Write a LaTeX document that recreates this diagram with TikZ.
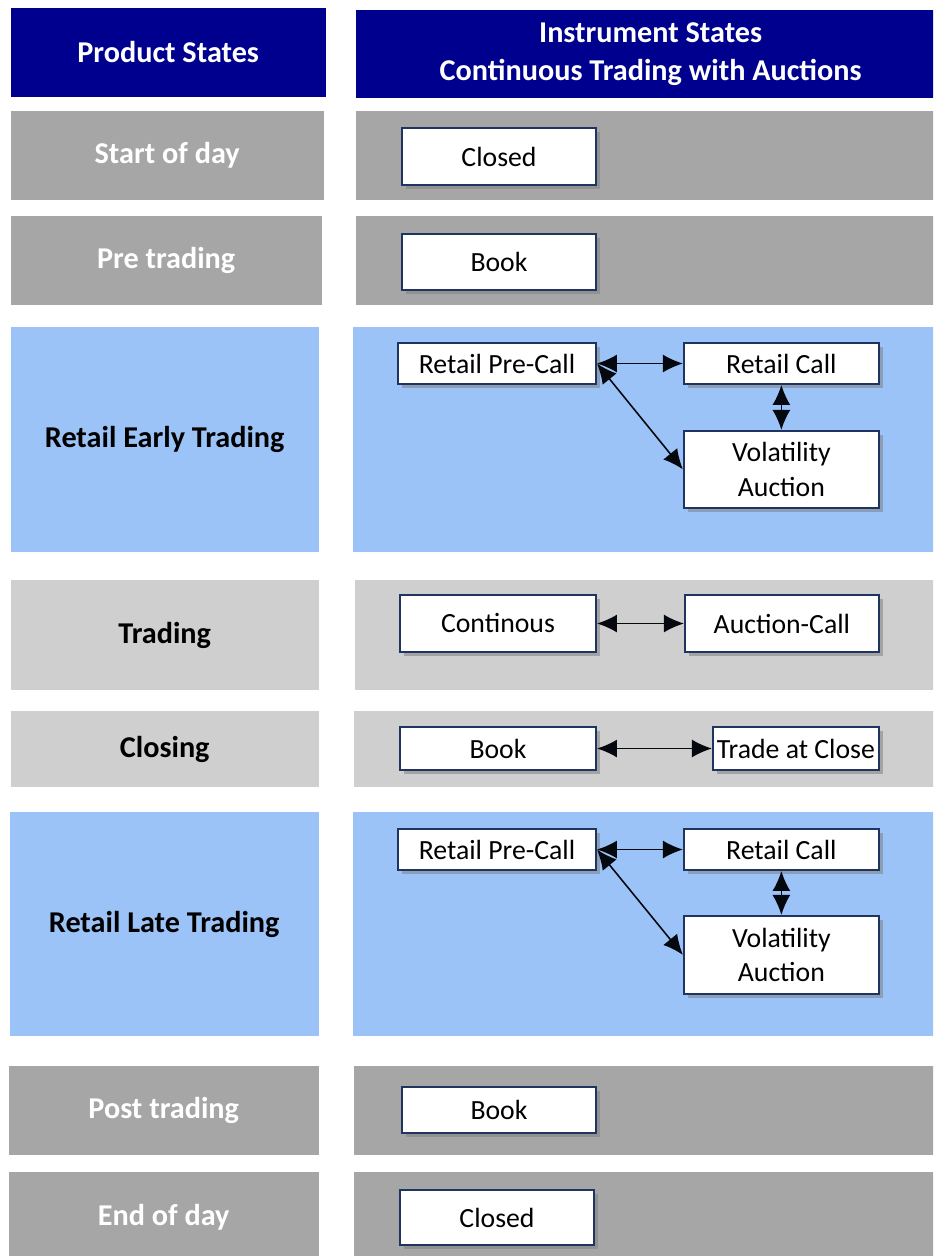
\documentclass[tikz,border=0pt]{standalone}
\usepackage{fontspec}
\setmainfont{Carlito}
\usepackage{tikz}
\usetikzlibrary{shapes, arrows.meta, positioning, shadows}
\usepackage{xcolor}

\definecolor{headblue}{RGB}{0,0,142}
\definecolor{rowdark}{RGB}{166,166,166}
\definecolor{rowlight}{RGB}{207,207,207}
\definecolor{rowblue}{RGB}{155,195,247}
\definecolor{boxline}{RGB}{31,52,96}

\newcommand\statefont{\fontsize{15.8}{19.5}\selectfont}
\newcommand\rowfont{\fontsize{17.2}{21.5}\selectfont\bfseries}

\begin{document}
\begin{tikzpicture}[x=0.02cm, y=-0.02cm, thick,
    head/.style={fill=headblue, text=white, font=\rowfont, align=center},
    darkrow/.style={fill=rowdark, text=white, font=\rowfont},
    lightrow/.style={fill=rowlight, font=\rowfont},
    bluerow/.style={fill=rowblue, font=\rowfont},
    state/.style={draw=boxline, line width=1.1pt, fill=white,
        drop shadow={shadow xshift=2.5pt, shadow yshift=-2.5pt, opacity=0.55},
        font=\statefont, inner sep=1pt, text centered},
    link/.style={{Latex[length=4mm,width=3.6mm]}-{Latex[length=4mm,width=3.6mm]},
        draw=black!85!boxline, line width=0.9pt}]

\clip (0,0) rectangle (933,1256);

% Header
\node[head,
    anchor=west,
    minimum width=6.3cm,
    minimum height=1.78cm] (prodhead) at (10,52.5) {Product States};

\node[head,
    anchor=west,
    minimum width=11.8cm,
    minimum height=1.78cm] (insthead) at (355,54) {Instrument States\\Continuous Trading with Auctions};

% Product states (left) and instrument panels (right)
\node[darkrow, anchor=west, minimum width=6.26cm, minimum height=1.78cm] (row1) at (10,155.5) {Start of day};
\node[darkrow, anchor=west, minimum width=11.8cm, minimum height=1.78cm] (panel1) at (355,155.5) {};

\node[darkrow, anchor=west, minimum width=6.22cm, minimum height=1.78cm] (row2) at (10,260.5) {Pre trading};
\node[darkrow, anchor=west, minimum width=11.8cm, minimum height=1.78cm] (panel2) at (355,260.5) {};

\node[bluerow, anchor=west, minimum width=6.16cm, minimum height=4.5cm] (row3) at (10,439.5) {Retail Early Trading};
\node[bluerow, anchor=west, minimum width=11.8cm, minimum height=4.5cm] (panel3) at (352,439.5) {};

\node[lightrow, anchor=west, minimum width=6.16cm, minimum height=2.2cm] (row4) at (10,635) {Trading};
\node[lightrow, anchor=west, minimum width=11.8cm, minimum height=2.2cm] (panel4) at (354,635) {};

\node[lightrow, anchor=west, minimum width=6.16cm, minimum height=1.52cm] (row5) at (10,749) {Closing};
\node[lightrow, anchor=west, minimum width=11.8cm, minimum height=1.52cm] (panel5) at (353,749) {};

\node[bluerow, anchor=west, minimum width=6.18cm, minimum height=4.48cm] (row6) at (9,924) {Retail Late Trading};
\node[bluerow, anchor=west, minimum width=11.8cm, minimum height=4.48cm] (panel6) at (352,924) {};

\node[darkrow, anchor=west, minimum width=6.2cm, minimum height=1.78cm] (row7) at (8,1110.5) {Post trading};
\node[darkrow, anchor=west, minimum width=11.8cm, minimum height=1.78cm] (panel7) at (353,1110.5) {};

\node[darkrow, anchor=west, minimum width=6.2cm, minimum height=1.8cm] (row8) at (8,1217) {End of day};
\node[darkrow, anchor=west, minimum width=11.8cm, minimum height=1.8cm] (panel8) at (353,1217) {};

% Instrument states
\node[state, minimum width=3.88cm, minimum height=1.14cm] (closed1) at (499,156.5) {Closed};

\node[state, minimum width=3.88cm, minimum height=1.12cm] (book1) at (499,262) {Book};

\node[state, minimum width=3.96cm, minimum height=0.82cm] (precall1) at (497,363.5) {Retail Pre-Call};
\node[state,
    right=1.72cm of precall1,
    minimum width=3.9cm,
    minimum height=0.82cm] (call1) {Retail Call};
\node[state,
    below=0.9cm of call1,
    minimum width=3.9cm,
    minimum height=1.54cm,
    text width=3.5cm] (vola1) {Volatility\\Auction};

\node[state, minimum width=3.92cm, minimum height=1.14cm] (cont) at (498,623.5) {Continous};
\node[state,
    right=1.74cm of cont,
    minimum width=3.88cm,
    minimum height=1.14cm] (auction) {Auction-Call};

\node[state, minimum width=3.92cm, minimum height=0.86cm] (book2) at (498,748.5) {Book};
\node[state,
    right=2.3cm of book2,
    minimum width=3.32cm,
    minimum height=0.86cm] (tradeclose) {Trade at Close};

\node[state, minimum width=3.96cm, minimum height=0.82cm] (precall2) at (497,849.5) {Retail Pre-Call};
\node[state,
    right=1.72cm of precall2,
    minimum width=3.9cm,
    minimum height=0.82cm] (call2) {Retail Call};
\node[state,
    below=0.88cm of call2,
    minimum width=3.9cm,
    minimum height=1.56cm,
    text width=3.5cm] (vola2) {Volatility\\Auction};

\node[state, minimum width=3.88cm, minimum height=0.92cm] (book3) at (499,1110) {Book};

\node[state, minimum width=3.88cm, minimum height=1.1cm] (closed2) at (497,1217.5) {Closed};

% Arrows
\draw[link] (precall1.east) -- (call1.west);
\draw[link] (precall1.east) -- (vola1.west);
\draw[link] (call1) -- (vola1);
\draw[link] (cont) -- (auction);
\draw[link] (book2) -- (tradeclose);
\draw[link] (precall2.east) -- (call2.west);
\draw[link] (precall2.east) -- (vola2.west);
\draw[link] (call2) -- (vola2);

\end{tikzpicture}
\end{document}
